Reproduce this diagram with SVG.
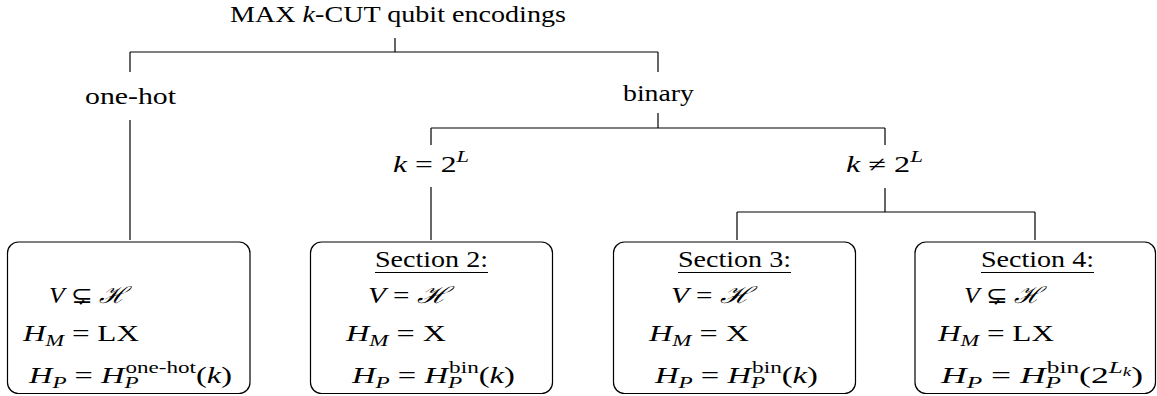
<svg xmlns="http://www.w3.org/2000/svg" width="1157" height="396" viewBox="0 0 1157 396">
<style>
text{font-family:"Liberation Serif","DejaVu Serif",serif;font-size:22.5px;fill:#000}
.i{font-style:italic}
.s{font-size:16px}
.m{font-family:"DejaVu Serif","Liberation Serif",serif;font-size:23px}
.box{fill:#fff;stroke:#000;stroke-width:1.2}
.c{fill:none;stroke:#000;stroke-width:1.2}
</style>
<rect width="1157" height="396" fill="#fff"/>
<g id="connectors">
<path class="c" d="M395,38V52M130,52H658M130,52V72M658,52V72"/>
<path class="c" d="M130,120V240"/>
<path class="c" d="M658,113V128M431,128H885M431,128V145M885,128V145"/>
<path class="c" d="M431,187V240"/>
<path class="c" d="M885,188V212M737,212H1035M737,212V240M1035,212V240"/>
</g>
<g id="root"><text x="230" y="22" textLength="336" lengthAdjust="spacingAndGlyphs">MAX <tspan class="i">k</tspan>-CUT qubit encodings</text></g>
<g id="onehot"><text x="85" y="104" textLength="91" lengthAdjust="spacingAndGlyphs">one-hot</text></g>
<g id="binary"><text x="623" y="101" textLength="71" lengthAdjust="spacingAndGlyphs">binary</text></g>
<g id="kpow"><text x="393" y="172" textLength="76" lengthAdjust="spacingAndGlyphs"><tspan class="i">k</tspan> = 2<tspan class="i s" dy="-10">L</tspan></text></g>
<g id="knotpow"><text x="846" y="172" textLength="77" lengthAdjust="spacingAndGlyphs"><tspan class="i">k</tspan> ≠ 2<tspan class="i s" dy="-10">L</tspan></text></g>

<g id="box1">
<rect class="box" x="7.5" y="242" width="242.5" height="151.5" rx="11"/>
<text x="49" y="303" textLength="77" lengthAdjust="spacingAndGlyphs"><tspan class="i">V</tspan> <tspan class="m">⊊</tspan> <tspan class="m i">ℋ</tspan></text>
<text x="23" y="341" textLength="116" lengthAdjust="spacingAndGlyphs"><tspan class="i">H</tspan><tspan class="i s" dy="5">M</tspan><tspan dy="-5"> = LX</tspan></text>
<text x="29" y="383" textLength="203" lengthAdjust="spacingAndGlyphs"><tspan class="i">H</tspan><tspan class="i s" dy="5">P</tspan><tspan dy="-5"> = </tspan><tspan class="i">H</tspan><tspan class="i s" dy="5">P</tspan><tspan class="s" dx="-9" dy="-15">one-hot</tspan><tspan dy="10">(</tspan><tspan class="i">k</tspan>)</text>
</g>

<g id="box2">
<rect class="box" x="310.5" y="242" width="242" height="151.5" rx="11"/>
<text x="375" y="267" textLength="113" lengthAdjust="spacingAndGlyphs">Section 2:</text>
<path class="c" d="M375,272.5H488"/>
<text x="368" y="303" textLength="80" lengthAdjust="spacingAndGlyphs"><tspan class="i">V</tspan> = <tspan class="m i">ℋ</tspan></text>
<text x="346" y="341" textLength="100" lengthAdjust="spacingAndGlyphs"><tspan class="i">H</tspan><tspan class="i s" dy="5">M</tspan><tspan dy="-5"> = X</tspan></text>
<text x="352" y="383" textLength="163" lengthAdjust="spacingAndGlyphs"><tspan class="i">H</tspan><tspan class="i s" dy="5">P</tspan><tspan dy="-5"> = </tspan><tspan class="i">H</tspan><tspan class="i s" dy="5">P</tspan><tspan class="s" dx="-9" dy="-15">bin</tspan><tspan dy="10">(</tspan><tspan class="i">k</tspan>)</text>
</g>

<g id="box3">
<rect class="box" x="613.5" y="242" width="242" height="151.5" rx="11"/>
<text x="678" y="267" textLength="113" lengthAdjust="spacingAndGlyphs">Section 3:</text>
<path class="c" d="M678,272.5H791"/>
<text x="671" y="303" textLength="80" lengthAdjust="spacingAndGlyphs"><tspan class="i">V</tspan> = <tspan class="m i">ℋ</tspan></text>
<text x="649" y="341" textLength="100" lengthAdjust="spacingAndGlyphs"><tspan class="i">H</tspan><tspan class="i s" dy="5">M</tspan><tspan dy="-5"> = X</tspan></text>
<text x="655" y="383" textLength="163" lengthAdjust="spacingAndGlyphs"><tspan class="i">H</tspan><tspan class="i s" dy="5">P</tspan><tspan dy="-5"> = </tspan><tspan class="i">H</tspan><tspan class="i s" dy="5">P</tspan><tspan class="s" dx="-9" dy="-15">bin</tspan><tspan dy="10">(</tspan><tspan class="i">k</tspan>)</text>
</g>

<g id="box4">
<rect class="box" x="915" y="242" width="240.5" height="151.5" rx="11"/>
<text x="981" y="267" textLength="113" lengthAdjust="spacingAndGlyphs">Section 4:</text>
<path class="c" d="M981,272.5H1094"/>
<text x="964" y="303" textLength="77" lengthAdjust="spacingAndGlyphs"><tspan class="i">V</tspan> <tspan class="m">⊊</tspan> <tspan class="m i">ℋ</tspan></text>
<text x="938" y="341" textLength="116" lengthAdjust="spacingAndGlyphs"><tspan class="i">H</tspan><tspan class="i s" dy="5">M</tspan><tspan dy="-5"> = LX</tspan></text>
<text x="941" y="383" textLength="202" lengthAdjust="spacingAndGlyphs"><tspan class="i">H</tspan><tspan class="i s" dy="5">P</tspan><tspan dy="-5"> = </tspan><tspan class="i">H</tspan><tspan class="i s" dy="5">P</tspan><tspan class="s" dx="-9" dy="-15">bin</tspan><tspan dy="10">(2</tspan><tspan class="i s" dy="-10">L</tspan><tspan class="i" style="font-size:12px" dy="3">k</tspan><tspan dy="7">)</tspan></text>
</g>
</svg>
